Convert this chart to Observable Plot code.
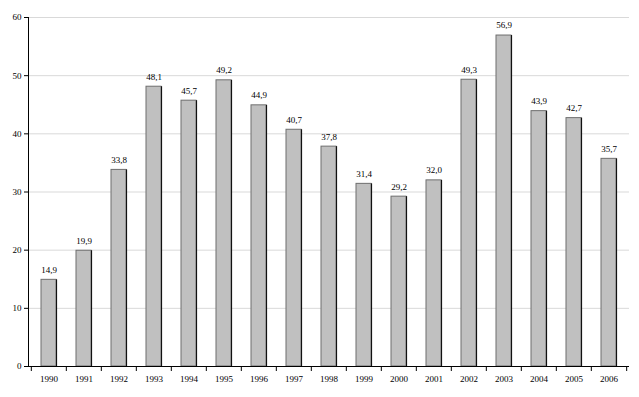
<!DOCTYPE html>
<html>
<head>
<meta charset="utf-8">
<script src="https://cdn.jsdelivr.net/npm/d3@7"></script>
<script src="https://cdn.jsdelivr.net/npm/@observablehq/plot@0.6"></script>
<style>
  html, body { margin: 0; padding: 0; background: #fff; }
  svg { display: block; }
</style>
</head>
<body>
<div id="chart"></div>
<script>
const years = ["1990","1991","1992","1993","1994","1995","1996","1997","1998","1999","2000","2001","2002","2003","2004","2005","2006"];
const values = [14.9, 19.9, 33.8, 48.1, 45.7, 49.2, 44.9, 40.7, 37.8, 31.4, 29.2, 32.0, 49.3, 56.9, 43.9, 42.7, 35.7];
const yTicks = [0, 10, 20, 30, 40, 50, 60];

const data = years.map((y, i) => ({year: y, value: values[i]}));
const W = 639, H = 397, ML = 28, MR = 10, MT = 17, MB = 31;
const PAD = 0.57;
const step = (W - ML - MR) / years.length;
const bw = step * (1 - PAD);
const fmt = v => v.toFixed(1).replace(".", ",");
const font = "'Liberation Serif', 'DejaVu Serif', serif";

const chart = Plot.plot({
  width: W, height: H,
  marginLeft: ML, marginRight: MR, marginTop: MT, marginBottom: MB,
  style: {fontFamily: font, fontSize: "9px", color: "#000", background: "#fff"},
  x: {domain: years, paddingInner: PAD, paddingOuter: PAD / 2, label: null},
  y: {domain: [0, 60], label: null},
  marks: [
    Plot.gridY(yTicks, {stroke: "#d9d9d9", strokeOpacity: 1}),
    Plot.barY(data, {x: "year", y: "value", fill: "#c0c0c0", stroke: "#6e6e6e", strokeWidth: 1}),
    Plot.ruleX(data, {x: "year", y1: 0, y2: "value", dx: bw / 2, stroke: "#000", strokeWidth: 1}),
    Plot.text(data, {x: "year", y: "value", text: d => fmt(d.value), dy: -10, fontSize: 9}),
    Plot.ruleY([0], {stroke: "#000"}),
    Plot.frame({anchor: "left", stroke: "#000"}),
    Plot.ruleX(years, {x: d => d, y1: 0, y2: 0, dx: -step / 2, insetBottom: -5, stroke: "#000"}),
    Plot.ruleX([years[years.length - 1]], {x: d => d, y1: 0, y2: 0, dx: step / 2, insetBottom: -5, stroke: "#000"}),
    Plot.axisX({tickSize: 0, tickPadding: 9, fontSize: 9}),
    Plot.axisY(yTicks, {tickSize: 4, tickPadding: 3, fontSize: 9})
  ]
});
document.getElementById("chart").appendChild(chart);
</script>
</body>
</html>
